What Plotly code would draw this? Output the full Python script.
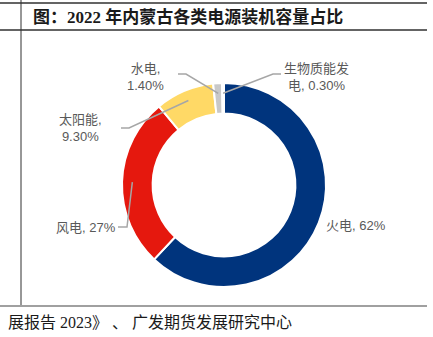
import math
import plotly.graph_objects as go

# ---- data ----
categories = ["火电", "风电", "太阳能", "水电", "生物质能发电"]
shares = [62.0, 27.0, 9.3, 1.4, 0.3]
label_texts = ["火电, 62%", "风电, 27%", "太阳能,<br>9.30%", "水电,<br>1.40%", "生物质能发<br>电, 0.30%"]
colors = ["#00347D", "#E5180E", "#FFD966", "#C8C8C8", "#BFBFBF"]

title_text = "图：2022 年内蒙古各类电源装机容量占比"
source_text = "展报告 2023》 、 广发期货发展研究中心"

W, H = 433, 337
CX, CY, R = 224, 185, 102   # pie centre / radius in pixels
HOLE = 0.70

def px(x):
    return x / W

def py(y):
    return 1 - y / H

fig = go.Figure()
fig.add_trace(go.Pie(
    labels=categories, values=shares, sort=False, direction="clockwise",
    rotation=0, hole=HOLE, textinfo="none", hoverinfo="label+percent",
    marker=dict(colors=colors, line=dict(color="white", width=2)),
    domain=dict(x=[px(CX - R), px(CX + R)], y=[py(CY + R), py(CY - R)]),
    showlegend=False,
))

# label placements (layout only): text centre and leader elbow start points
label_pos = {
    "火电": dict(tx=356, ty=226, line=None),
    "风电": dict(tx=86, ty=227, line=[(118, 227), (127, 227)]),
    "太阳能": dict(tx=80, ty=128, line=[(121, 128), (129, 128)]),
    "水电": dict(tx=145, ty=77, line=[(178, 74), (186, 74)]),
    "生物质能发电": dict(tx=316, ty=77, line=[(281, 74), (273, 74)]),
}

total = sum(shares)
cum = 0.0
shapes = []
annotations = []
for cat, val, txt in zip(categories, shares, label_texts):
    mid = (cum + val / 2) / total * 2 * math.pi
    cum += val
    rmid = R * (1 + HOLE) / 2 + 5
    ex = CX + rmid * math.sin(mid)
    ey = CY - rmid * math.cos(mid)
    lp = label_pos[cat]
    if lp["line"]:
        pts = lp["line"] + [(ex, ey)]
        path = "M " + " L ".join(f"{px(a):.5f},{py(b):.5f}" for a, b in pts)
        shapes.append(dict(type="path", xref="paper", yref="paper", path=path,
                           line=dict(color="#A6A6A6", width=1.5)))
    annotations.append(dict(x=px(lp["tx"]), y=py(lp["ty"]), xref="paper", yref="paper",
                            text=txt, showarrow=False, xanchor="center", yanchor="middle",
                            font=dict(family="Liberation Sans, Noto Sans CJK SC", size=13,
                                      color="#595959")))

# frame lines
frame = [
    (0, 3, 427, 3, "#303030", 1.5),
    (0, 30, 427, 30, "#303030", 1.5),
    (21, 0, 21, 306, "#303030", 1),
    (0, 306, 427, 306, "#A0A0A0", 2),
]
for x0, y0, x1, y1, c, w in frame:
    shapes.append(dict(type="line", xref="paper", yref="paper",
                       x0=px(x0), y0=py(y0), x1=px(x1), y1=py(y1),
                       line=dict(color=c, width=w)))

annotations.append(dict(x=px(31), y=py(17), xref="paper", yref="paper", text="<b>" + title_text + "</b>",
                        showarrow=False, xanchor="left", yanchor="middle",
                        font=dict(family="Liberation Serif, Noto Sans CJK SC", size=17, color="#1a1a1a")))
annotations.append(dict(x=px(6), y=py(322), xref="paper", yref="paper", text=source_text,
                        showarrow=False, xanchor="left", yanchor="middle",
                        font=dict(family="Liberation Serif, Noto Sans CJK SC", size=16, color="#1a1a1a")))

fig.update_layout(
    width=W, height=H, margin=dict(l=0, r=0, t=0, b=0),
    paper_bgcolor="white", plot_bgcolor="white",
    shapes=shapes, annotations=annotations,
)
fig.write_html("out.html")
